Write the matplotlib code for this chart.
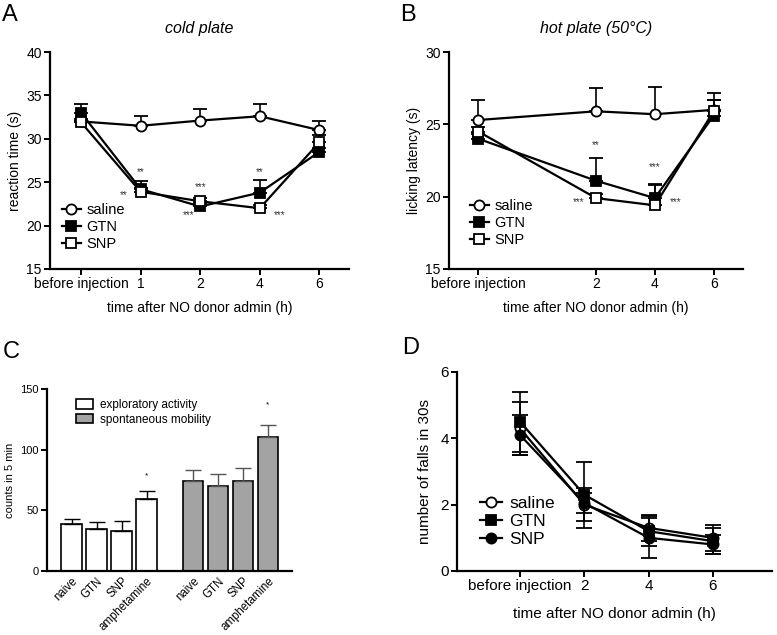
"""
Four-panel figure: cold plate, hot plate, activity counts, falls
"""
import matplotlib.pyplot as plt
import numpy as np

plt.rcParams['font.family'] = ['Liberation Sans', 'DejaVu Sans']
plt.rcParams['axes.linewidth'] = 1.6
plt.rcParams['xtick.major.width'] = 1.4
plt.rcParams['ytick.major.width'] = 1.4
plt.rcParams['xtick.major.size'] = 4
plt.rcParams['ytick.major.size'] = 4

series_names = ["saline", "GTN", "SNP"]

# panel A - cold plate
a_labels = ["before injection", "1", "2", "4", "6"]
a_saline = [32.0, 31.5, 32.1, 32.6, 31.0]
a_saline_err = [0.0, 1.1, 1.3, 1.4, 1.0]
a_gtn = [33.0, 24.2, 22.2, 23.8, 28.5]
a_gtn_err = [1.0, 0.9, 0.4, 1.4, 0.4]
a_snp = [31.9, 23.9, 22.8, 22.0, 29.6]
a_snp_err = [0.4, 0.4, 0.4, 0.4, 0.8]
a_stars = [(1, 26.2, "**"), (0.72, 23.5, "**"), (2, 24.4, "***"),
           (1.8, 21.2, "***"), (3, 26.2, "**"), (3.34, 21.2, "***")]

# panel B - hot plate
b_labels = ["before injection", "2", "4", "6"]
b_pos = [0, 2, 3, 4]
b_saline = [25.3, 25.9, 25.7, 26.0]
b_saline_err = [1.4, 1.6, 1.9, 1.2]
b_gtn = [24.0, 21.1, 19.9, 25.6]
b_gtn_err = [0.3, 1.6, 1.0, 1.1]
b_snp = [24.5, 19.9, 19.4, 25.9]
b_snp_err = [0.3, 0.3, 1.4, 0.8]
b_stars = [(2, 23.6, "**"), (1.7, 19.6, "***"), (3, 22.05, "***"), (3.36, 19.6, "***")]

# panel C - activity counts
c_labels = ["naive", "GTN", "SNP", "amphetamine"]
c_explor = [38.5, 34.4, 32.7, 59.1]
c_explor_err = [4.3, 6.2, 8.8, 6.6]
c_spont = [74.2, 70.3, 74.2, 110.5]
c_spont_err = [9.1, 9.4, 10.7, 10.1]
c_explor_star = [None, None, None, 78]
c_spont_star = [None, None, None, 137]

# panel D - falls
d_labels = ["before injection", "2", "4", "6"]
d_saline = [4.3, 2.0, 1.3, 1.0]
d_saline_err = [0.8, 0.5, 0.4, 0.4]
d_gtn = [4.5, 2.3, 1.2, 0.9]
d_gtn_err = [0.9, 1.0, 0.45, 0.4]
d_snp = [4.1, 2.05, 1.0, 0.8]
d_snp_err = [0.6, 0.3, 0.6, 0.3]

fig = plt.figure(figsize=(7.77, 6.35), dpi=100)


def style_axes(ax, size=10):
    ax.spines["top"].set_visible(False)
    ax.spines["right"].set_visible(False)
    ax.tick_params(labelsize=size, pad=2)


def line_series(ax, xs, ys, err, marker, mfc, z, both=False, cap=5):
    yerr = err if both else [np.zeros(len(err)), err]
    cont = ax.errorbar(xs, ys, yerr=yerr, fmt="-" + marker, color="black", mfc=mfc,
                       mec="black", mew=1.3, ms=7.3, lw=1.6, elinewidth=1.2,
                       capsize=cap, capthick=1.2, zorder=z)
    return cont[0]


def legend(ax, handles, anchor, size=10.5, spacing=0.2):
    ax.legend(handles, series_names, loc="upper left", bbox_to_anchor=anchor,
              frameon=False, fontsize=size, handlelength=1.3,
              handletextpad=0.4, labelspacing=spacing, borderaxespad=0)


# A
ax = fig.add_axes([0.0644, 0.5764, 0.385, 0.3417])
xa = np.arange(len(a_labels))
h = [line_series(ax, xa, a_saline, a_saline_err, "o", "white", 3),
     line_series(ax, xa, a_gtn, a_gtn_err, "s", "black", 4),
     line_series(ax, xa, a_snp, a_snp_err, "s", "white", 5)]
for x, y, s in a_stars:
    ax.text(x, y, s, ha="center", va="center", fontsize=7, color="#333333")
ax.set_xlim(-0.52, 4.5)
ax.set_ylim(15, 40)
ax.set_xticks(xa)
ax.set_xticklabels(a_labels)
ax.set_yticks([15, 20, 25, 30, 35, 40])
ax.set_xlabel("time after NO donor admin (h)", fontsize=10, labelpad=7)
ax.set_ylabel("reaction time (s)", fontsize=10, labelpad=3)
ax.set_title("cold plate", fontsize=11.5, style="italic", pad=14)
style_axes(ax)
legend(ax, h, (0.02, 0.33))
fig.text(0.003, 0.993, "A", fontsize=17, va="top")

# B
ax = fig.add_axes([0.5779, 0.5764, 0.3784, 0.3417])
h = [line_series(ax, b_pos, b_saline, b_saline_err, "o", "white", 3),
     line_series(ax, b_pos, b_gtn, b_gtn_err, "s", "black", 4),
     line_series(ax, b_pos, b_snp, b_snp_err, "s", "white", 5)]
for x, y, s in b_stars:
    ax.text(x, y, s, ha="center", va="center", fontsize=7, color="#333333")
ax.set_xlim(-0.5, 4.5)
ax.set_ylim(15, 30)
ax.set_xticks(b_pos)
ax.set_xticklabels(b_labels)
ax.set_yticks([15, 20, 25, 30])
ax.set_xlabel("time after NO donor admin (h)", fontsize=10, labelpad=7)
ax.set_ylabel("licking latency (s)", fontsize=10, labelpad=3)
ax.set_title("hot plate (50°C)", fontsize=11.5, style="italic", pad=14)
style_axes(ax)
legend(ax, h, (0.05, 0.35))
fig.text(0.515, 0.993, "B", fontsize=17, va="top")

# C
ax = fig.add_axes([0.0605, 0.1008, 0.3153, 0.2866])
xc1 = np.arange(4)
xc2 = np.arange(4) + 4.86
ax.bar(xc1, c_explor, width=0.83, color="white", edgecolor="black", lw=1.2,
       label="exploratory activity")
ax.bar(xc2, c_spont, width=0.83, color="#a3a3a3", edgecolor="black", lw=1.2,
       label="spontaneous mobility")
ax.errorbar(xc1, c_explor, yerr=[np.zeros(4), c_explor_err], fmt="none",
            ecolor="black", elinewidth=1.0, capsize=5.5, capthick=1.0)
ax.errorbar(xc2, c_spont, yerr=[np.zeros(4), c_spont_err], fmt="none",
            ecolor="#555555", elinewidth=1.0, capsize=5.5, capthick=1.0)
for xs, stars in ((xc1, c_explor_star), (xc2, c_spont_star)):
    for x, y in zip(xs, stars):
        if y is not None:
            ax.text(x, y, "*", ha="center", va="center", fontsize=6)
ax.set_xlim(-0.98, 8.82)
ax.set_ylim(0, 150)
ax.set_yticks([0, 50, 100, 150])
ax.set_xticks(np.concatenate([xc1, xc2]))
ax.set_xticklabels(c_labels + c_labels, rotation=45, ha="right",
                   rotation_mode="anchor")
style_axes(ax, 8)
ax.tick_params(axis="x", length=0, pad=3, labelsize=8.3)
ax.set_ylabel("counts in 5 min", fontsize=8, labelpad=4)
ax.legend(loc="upper left", bbox_to_anchor=(0.1, 0.97), frameon=False,
          fontsize=8.5, handlelength=1.4, handleheight=0.9,
          handletextpad=0.6, labelspacing=0.2, borderaxespad=0)
fig.text(0.003, 0.463, "C", fontsize=17, va="top")

# D
ax = fig.add_axes([0.5882, 0.1008, 0.4054, 0.3134])
xd = np.arange(len(d_labels))
h = [line_series(ax, xd, d_saline, d_saline_err, "o", "white", 3, True, 6),
     line_series(ax, xd, d_gtn, d_gtn_err, "s", "black", 4, True, 6),
     line_series(ax, xd, d_snp, d_snp_err, "o", "black", 5, True, 6)]
ax.set_xlim(-0.98, 3.92)
ax.set_ylim(0, 6)
ax.set_yticks([0, 2, 4, 6])
ax.set_xticks(xd)
ax.set_xticklabels(d_labels)
ax.set_xlabel("time after NO donor admin (h)", fontsize=11, labelpad=10)
ax.set_ylabel("number of falls in 30s", fontsize=11, labelpad=6)
style_axes(ax, 11)
legend(ax, h, (0.05, 0.41), size=12.5, spacing=0.15)
fig.text(0.518, 0.47, "D", fontsize=17, va="top")

plt.savefig("out.png", dpi=100)
plt.close(fig)
